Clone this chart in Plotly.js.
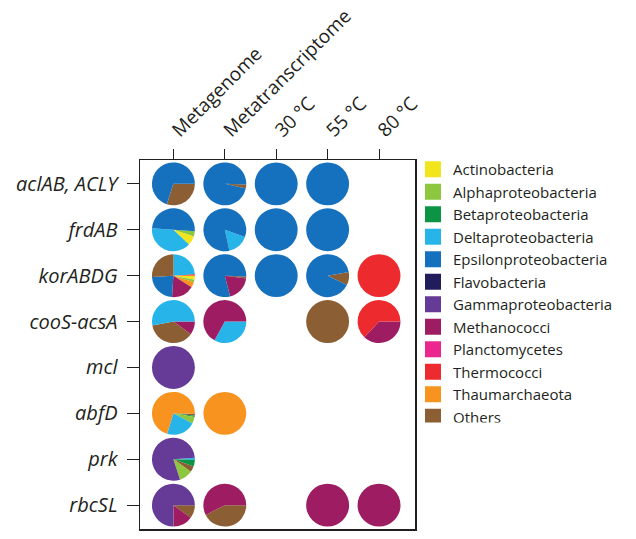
<!DOCTYPE html>
<html>
<head>
<meta charset="utf-8">
<script src="https://cdn.plot.ly/plotly-3.0.1.min.js"></script>
<style>html,body{margin:0;padding:0;background:#fff;}#chart{width:636px;height:539px;}</style>
</head>
<body>
<div id="chart"></div>
<script>
// ---- categories ----
const genes = ['aclAB, ACLY', 'frdAB', 'korABDG', 'cooS-acsA', 'mcl', 'abfD', 'prk', 'rbcSL'];
const samples = ['Metagenome', 'Metatranscriptome', '30 °C', '55 °C', '80 °C'];
const taxa = ['Actinobacteria', 'Alphaproteobacteria', 'Betaproteobacteria', 'Deltaproteobacteria',
  'Epsilonproteobacteria', 'Flavobacteria', 'Gammaproteobacteria', 'Methanococci',
  'Planctomycetes', 'Thermococci', 'Thaumarchaeota', 'Others'];
const taxaColors = ['#f2e51d', '#8dc63f', '#0b9444', '#27b4e9', '#1570be', '#211c5c', '#663a97',
  '#9e1c62', '#ec268f', '#ed2a2d', '#f7931e', '#8b5e34'];

// ---- pie values (percent), per gene row and sample column; labels listed clockwise ----
const aclAB_MG_labels = ['Others', 'Epsilonproteobacteria'];
const aclAB_MG_values = [30, 70];
const aclAB_MT_labels = ['Others', 'Epsilonproteobacteria'];
const aclAB_MT_values = [3, 97];
const aclAB_30_labels = ['Epsilonproteobacteria'];
const aclAB_30_values = [100];
const aclAB_55_labels = ['Epsilonproteobacteria'];
const aclAB_55_values = [100];

const frdAB_MG_labels = ['Alphaproteobacteria', 'Actinobacteria', 'Deltaproteobacteria', 'Epsilonproteobacteria'];
const frdAB_MG_values = [4, 7, 39, 50];
const frdAB_MT_labels = ['Deltaproteobacteria', 'Epsilonproteobacteria'];
const frdAB_MT_values = [16, 84];
const frdAB_30_labels = ['Epsilonproteobacteria'];
const frdAB_30_values = [100];
const frdAB_55_labels = ['Epsilonproteobacteria'];
const frdAB_55_values = [100];

const korABDG_MG_labels = ['Deltaproteobacteria', 'Thermococci', 'Actinobacteria', 'Alphaproteobacteria',
  'Thaumarchaeota', 'Methanococci', 'Epsilonproteobacteria', 'Others'];
const korABDG_MG_values = [24, 1, 3, 2, 4, 17, 23, 26];
const korABDG_MT_labels = ['Others', 'Methanococci', 'Epsilonproteobacteria'];
const korABDG_MT_values = [1.5, 19, 79.5];
const korABDG_30_labels = ['Epsilonproteobacteria'];
const korABDG_30_values = [100];
const korABDG_55_labels = ['Others', 'Epsilonproteobacteria'];
const korABDG_55_values = [10, 90];
const korABDG_80_labels = ['Thermococci'];
const korABDG_80_values = [100];

const cooS_MG_labels = ['Methanococci', 'Others', 'Deltaproteobacteria'];
const cooS_MG_values = [10, 37, 53];
const cooS_MT_labels = ['Deltaproteobacteria', 'Methanococci'];
const cooS_MT_values = [33, 67];
const cooS_55_labels = ['Others'];
const cooS_55_values = [100];
const cooS_80_labels = ['Methanococci', 'Thermococci'];
const cooS_80_values = [37, 63];

const mcl_MG_labels = ['Gammaproteobacteria'];
const mcl_MG_values = [100];

const abfD_MG_labels = ['Others', 'Betaproteobacteria', 'Alphaproteobacteria', 'Deltaproteobacteria', 'Thaumarchaeota'];
const abfD_MG_values = [1.2, 1, 5, 22, 70.8];
const abfD_MT_labels = ['Thaumarchaeota'];
const abfD_MT_values = [100];

const prk_MG_labels = ['Deltaproteobacteria', 'Betaproteobacteria', 'Others', 'Alphaproteobacteria', 'Gammaproteobacteria'];
const prk_MG_values = [1.7, 5, 4.4, 10, 78.9];

const rbcSL_MG_labels = ['Others', 'Methanococci', 'Gammaproteobacteria'];
const rbcSL_MG_values = [10, 15, 75];
const rbcSL_MT_labels = ['Others', 'Methanococci'];
const rbcSL_MT_values = [42.5, 57.5];
const rbcSL_55_labels = ['Methanococci'];
const rbcSL_55_values = [100];
const rbcSL_80_labels = ['Methanococci'];
const rbcSL_80_values = [100];

// cell list: [gene index, sample index, labels, values, start angle (deg clockwise from 12 o'clock)]
const cells = [
  [0, 0, aclAB_MG_labels, aclAB_MG_values, 90],
  [0, 1, aclAB_MT_labels, aclAB_MT_values, 92],
  [0, 2, aclAB_30_labels, aclAB_30_values, 0],
  [0, 3, aclAB_55_labels, aclAB_55_values, 0],
  [1, 0, frdAB_MG_labels, frdAB_MG_values, 94],
  [1, 1, frdAB_MT_labels, frdAB_MT_values, 110],
  [1, 2, frdAB_30_labels, frdAB_30_values, 0],
  [1, 3, frdAB_55_labels, frdAB_55_values, 0],
  [2, 0, korABDG_MG_labels, korABDG_MG_values, 0],
  [2, 1, korABDG_MT_labels, korABDG_MT_values, 92],
  [2, 2, korABDG_30_labels, korABDG_30_values, 0],
  [2, 3, korABDG_55_labels, korABDG_55_values, 80],
  [2, 4, korABDG_80_labels, korABDG_80_values, 0],
  [3, 0, cooS_MG_labels, cooS_MG_values, 90],
  [3, 1, cooS_MT_labels, cooS_MT_values, 90],
  [3, 3, cooS_55_labels, cooS_55_values, 0],
  [3, 4, cooS_80_labels, cooS_80_values, 90],
  [4, 0, mcl_MG_labels, mcl_MG_values, 0],
  [5, 0, abfD_MG_labels, abfD_MG_values, 92],
  [5, 1, abfD_MT_labels, abfD_MT_values, 0],
  [6, 0, prk_MG_labels, prk_MG_values, 86],
  [7, 0, rbcSL_MG_labels, rbcSL_MG_values, 90],
  [7, 1, rbcSL_MT_labels, rbcSL_MT_values, 90],
  [7, 3, rbcSL_55_labels, rbcSL_55_values, 0],
  [7, 4, rbcSL_80_labels, rbcSL_80_values, 0]
];

// ---- layout geometry ----
const W = 636, H = 539;
const margin = {l: 139.5, r: 221, t: 160, b: 10};
const xRange = [-0.65, 4.70];
const yRange = [7.52, -0.52]; // reversed
const pieRadiusPx = 21.5;
const plotW = W - margin.l - margin.r;
const plotH = H - margin.t - margin.b;

function colorOf(label) { return taxaColors[taxa.indexOf(label)]; }
function paperX(x) { return (x - xRange[0]) / (xRange[1] - xRange[0]); }
function paperY(y) { return (yRange[0] - y) / (yRange[0] - yRange[1]); }

const FONT = '"Open Sans", "DejaVu Sans", sans-serif';
const traces = [];

// legend entries (dummy scatter traces so legend shows all taxa in order)
taxa.forEach((t, i) => {
  traces.push({
    type: 'scatter', mode: 'markers', x: [null], y: [null], name: t,
    marker: {symbol: 'square', size: 16, color: taxaColors[i]},
    hoverinfo: 'skip', showlegend: true
  });
});

cells.forEach(c => {
  const [gi, si, labels, values, rot] = c;
  const cx = paperX(si), cy = paperY(gi);
  const rx = pieRadiusPx / plotW, ry = pieRadiusPx / plotH;
  traces.push({
    type: 'pie',
    labels: labels,
    values: values,
    sort: false,
    direction: 'clockwise',
    rotation: rot,
    textinfo: 'none',
    hoverinfo: 'label+percent',
    showlegend: false,
    marker: {colors: labels.map(colorOf), line: {width: 0}},
    domain: {x: [cx - rx, cx + rx], y: [cy - ry, cy + ry]}
  });
});

const layout = {
  width: W, height: H,
  margin: margin,
  paper_bgcolor: '#ffffff',
  plot_bgcolor: '#ffffff',
  font: {family: FONT, color: '#231f20'},
  showlegend: true,
  legend: {
    x: 1.0 - 2 / plotW, xanchor: 'left', y: 1.0 + 7 / plotH, yanchor: 'top',
    font: {family: FONT, size: 15, color: '#231f20'},
    bgcolor: 'rgba(0,0,0,0)', borderwidth: 0,
    tracegroupgap: 0
  },
  xaxis: {
    range: xRange, side: 'top', showgrid: false, zeroline: false,
    tickmode: 'array', tickvals: samples.map((s, i) => i), ticktext: samples,
    tickangle: -45, ticks: 'outside', ticklen: 10, tickwidth: 1, tickcolor: '#231f20',
    showline: true, linecolor: '#231f20', linewidth: 1.5, mirror: true,
    tickfont: {family: FONT, size: 19, color: '#231f20'}, fixedrange: true
  },
  yaxis: {
    range: yRange, showgrid: false, zeroline: false,
    tickmode: 'array', tickvals: genes.map((g, i) => i), ticktext: genes,
    ticks: 'outside', ticklen: 12, tickwidth: 1, tickcolor: '#231f20', ticklabelstandoff: 5,
    showline: true, linecolor: '#231f20', linewidth: 1.5, mirror: true,
    tickfont: {family: FONT, size: 20, color: '#231f20', style: 'italic'}, fixedrange: true
  }
};

Plotly.newPlot('chart', traces, layout, {displayModeBar: false, staticPlot: true});
</script>
</body>
</html>
